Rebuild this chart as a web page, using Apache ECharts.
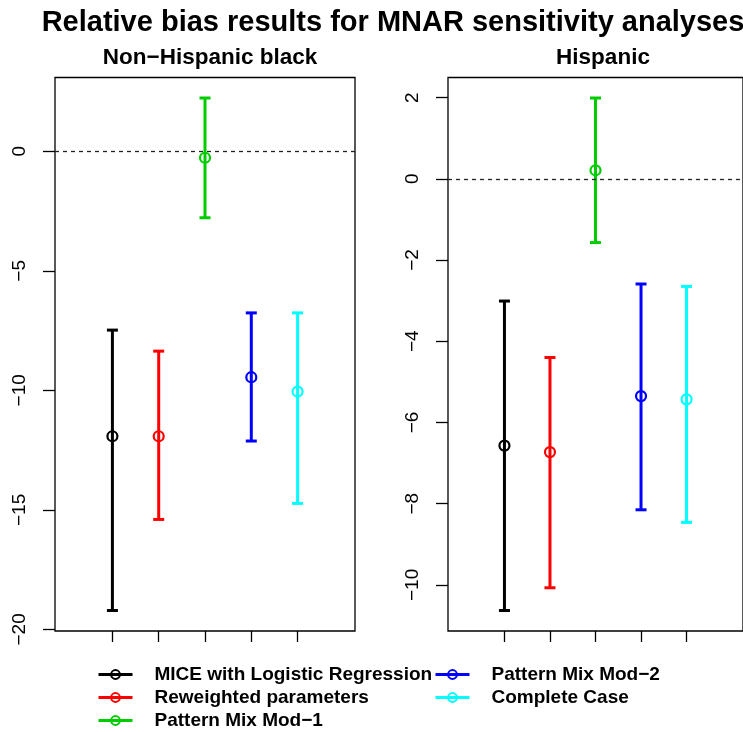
<!DOCTYPE html>
<html>
<head>
<meta charset="utf-8">
<script src="https://cdn.jsdelivr.net/npm/echarts@6/dist/echarts.min.js"></script>
<style>
html,body{margin:0;padding:0;background:#fff;}
#chart{width:743px;height:732px;}
</style>
</head>
<body>
<div id="chart"></div>
<script>
// ---- data ----
const methods = ['MICE with Logistic Regression', 'Reweighted parameters', 'Pattern Mix Mod\u22121', 'Pattern Mix Mod\u22122', 'Complete Case'];
const colors = ['#000000', '#FF0000', '#00CD00', '#0000FF', '#00FFFF'];
const xPos = [1, 2, 3, 4, 5];
const panelTitles = ['Non\u2212Hispanic black', 'Hispanic'];
const mainTitle = 'Relative bias results for MNAR sensitivity analyses';

const nhbEst  = [-11.92, -11.92, -0.27, -9.45, -10.05];
const nhbLow  = [-19.21, -15.40, -2.78, -12.12, -14.73];
const nhbHigh = [-7.48, -8.36, 2.23, -6.76, -6.76];

const hisEst  = [-6.57, -6.73, 0.21, -5.35, -5.43];
const hisLow  = [-10.63, -10.07, -1.57, -8.15, -8.46];
const hisHigh = [-3.01, -4.40, 1.99, -2.59, -2.65];

const nhbTicks = [-20, -15, -10, -5, 0];
const hisTicks = [-10, -8, -6, -4, -2, 0, 2];
const xTicks = [1, 2, 3, 4, 5];
const xLim = [0, 6];
const refLine = 0;

// ---- helpers ----
function rRange(lo, hi) { const d = (hi - lo) * 0.04; return [lo - d, hi + d]; }
const FONT = "'Liberation Sans', Arial, Helvetica, sans-serif";
const minus = v => String(v).replace('-', '\u2212');

const panels = [
  { est: nhbEst, low: nhbLow, high: nhbHigh, ticks: nhbTicks, left: 55 },
  { est: hisEst, low: hisLow, high: hisHigh, ticks: hisTicks, left: 448 }
];

const xr = rRange(xLim[0], xLim[1]);

const grids = [], xAxes = [], yAxes = [], series = [];
panels.forEach((p, k) => {
  const yr = rRange(Math.min(...p.low), Math.max(...p.high));
  grids.push({ left: p.left, top: 77.5, width: 300, height: 553.5, show: true,
    borderColor: '#000', borderWidth: 1.3, backgroundColor: 'transparent', containLabel: false });
  xAxes.push({ type: 'value', gridIndex: k, min: xr[0], max: xr[1], position: 'bottom',
    axisLine: { show: false, onZero: false }, splitLine: { show: false },
    axisTick: { show: true, inside: false, customValues: xTicks, length: 11, lineStyle: { color: '#000', width: 1.3 } },
    axisLabel: { show: false } });
  yAxes.push({ type: 'value', gridIndex: k, min: yr[0], max: yr[1], position: 'left',
    axisLine: { show: false, onZero: false }, splitLine: { show: false },
    axisTick: { show: true, inside: false, customValues: p.ticks, length: 12, lineStyle: { color: '#000', width: 1.3 } },
    axisLabel: { show: true, customValues: p.ticks, rotate: 90, margin: 26, color: '#000',
      fontFamily: FONT, fontSize: 19, formatter: minus } });
  // error bars
  series.push({
    type: 'custom', name: 'eb' + k, xAxisIndex: k, yAxisIndex: k, silent: true, z: 3,
    data: xPos.map((x, i) => [x, p.low[i], p.high[i]]),
    renderItem: function (params, api) {
      const i = params.dataIndex;
      const col = colors[i];
      const top = api.coord([api.value(0), api.value(2)]);
      const bot = api.coord([api.value(0), api.value(1)]);
      const w = 5.5;
      const st = { stroke: col, lineWidth: 3, fill: null };
      return { type: 'group', children: [
        { type: 'line', shape: { x1: top[0], y1: top[1], x2: bot[0], y2: bot[1] }, style: st },
        { type: 'line', shape: { x1: top[0] - w, y1: top[1], x2: top[0] + w, y2: top[1] }, style: st },
        { type: 'line', shape: { x1: bot[0] - w, y1: bot[1], x2: bot[0] + w, y2: bot[1] }, style: st }
      ] };
    },
    markLine: { silent: true, symbol: ['none', 'none'], label: { show: false },
      lineStyle: { color: '#222', width: 1.3, type: [4, 4] },
      data: [{ yAxis: refLine }] }
  });
  // points
  methods.forEach((m, i) => {
    series.push({
      type: 'line', name: m, xAxisIndex: k, yAxisIndex: k, silent: true, z: 5,
      data: [[xPos[i], p.est[i]]],
      symbol: 'circle', symbolSize: 10,
      itemStyle: { color: 'rgba(0,0,0,0)', borderColor: colors[i], borderWidth: 2.2 },
      lineStyle: { color: colors[i], width: 3, opacity: 0 },
      emphasis: { disabled: true }
    });
  });
});

function legendItems(idx) {
  return idx.map(i => ({ name: methods[i],
    itemStyle: { color: 'rgba(0,0,0,0)', borderColor: colors[i], borderWidth: 2 },
    lineStyle: { color: colors[i], width: 3, opacity: 1 } }));
}
const legendText = { fontFamily: FONT, fontSize: 19, fontWeight: 'bold', color: '#000', padding: [0, 0, 0, 17] };

const option = {
  animation: false,
  backgroundColor: '#fff',
  title: [
    { text: mainTitle, left: 388, top: 3, textAlign: 'center',
      textStyle: { fontFamily: FONT, fontSize: 29, fontWeight: 'bold', color: '#000' } },
    { text: panelTitles[0], left: 205, top: 41, textAlign: 'center',
      textStyle: { fontFamily: FONT, fontSize: 22.5, fontWeight: 'bold', color: '#000' } },
    { text: panelTitles[1], left: 598, top: 41, textAlign: 'center',
      textStyle: { fontFamily: FONT, fontSize: 22.5, fontWeight: 'bold', color: '#000' } }
  ],
  legend: [
    { data: legendItems([0, 1, 2]), orient: 'vertical', left: 97, top: 665, itemWidth: 34, itemHeight: 11,
      itemGap: 4, selectedMode: false, textStyle: legendText, padding: 0 },
    { data: legendItems([3, 4]), orient: 'vertical', left: 434, top: 665, itemWidth: 34, itemHeight: 11,
      itemGap: 4, selectedMode: false, textStyle: legendText, padding: 0 }
  ],
  grid: grids,
  xAxis: xAxes,
  yAxis: yAxes,
  series: series
};

const chart = echarts.init(document.getElementById('chart'), null, { renderer: 'canvas' });
chart.setOption(option);
</script>
</body>
</html>
